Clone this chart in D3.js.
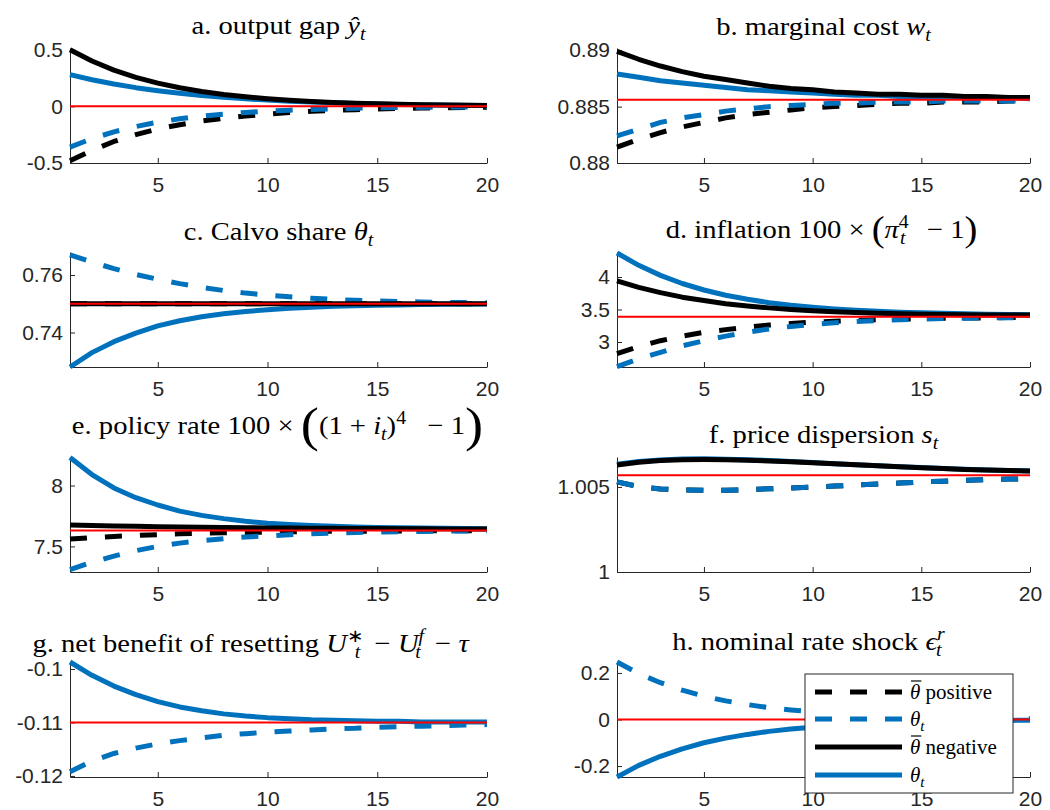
<!DOCTYPE html>
<html>
<head>
<meta charset="utf-8">
<script src="https://cdn.jsdelivr.net/npm/d3@7"></script>
<style>
  body { margin: 0; background: #fff; }
  svg { display: block; font-family: "Liberation Sans", Arial, sans-serif; }
  .ttl { font-family: "Liberation Serif", "Times New Roman", serif; fill: #000; }
</style>
</head>
<body>
<div id="chart"></div>
<script>
// periods
const periods = [1,2,3,4,5,6,7,8,9,10,11,12,13,14,15,16,17,18,19,20];
const xTicks = [5, 10, 15, 20];

// a. output gap
const gapBarPos   = [-0.48,-0.39,-0.31,-0.25,-0.2,-0.162,-0.13,-0.105,-0.085,-0.068,-0.055,-0.044,-0.036,-0.029,-0.023,-0.019,-0.015,-0.012,-0.01,-0.008];
const gapThetaPos = [-0.36,-0.285,-0.225,-0.178,-0.14,-0.11,-0.087,-0.069,-0.054,-0.043,-0.034,-0.027,-0.021,-0.017,-0.013,-0.01,-0.008,-0.007,-0.005,-0.004];
const gapThetaNeg = [0.28,0.235,0.197,0.165,0.138,0.115,0.096,0.08,0.066,0.055,0.046,0.038,0.031,0.026,0.021,0.017,0.014,0.012,0.01,0.008];
const gapBarNeg   = [0.5,0.4,0.32,0.256,0.205,0.164,0.131,0.105,0.084,0.067,0.054,0.043,0.034,0.028,0.022,0.018,0.014,0.011,0.009,0.007];
const gapSteady = 0;
const gapLim = [-0.5, 0.515];
const gapTicks = [-0.5, 0, 0.5];
const gapTickLabels = ["-0.5", "0", "0.5"];

// b. marginal cost
const mcBarPos   = [0.8814,0.8821,0.8827,0.8832,0.8836,0.884,0.8843,0.8845,0.8847,0.8849,0.885,0.8851,0.8852,0.8853,0.8853,0.8854,0.8854,0.8854,0.8855,0.8855];
const mcThetaPos = [0.8824,0.883,0.8836,0.884,0.8843,0.8846,0.8848,0.885,0.8851,0.8852,0.8853,0.8853,0.8854,0.8854,0.8854,0.8855,0.8855,0.8855,0.8855,0.8855];
const mcThetaNeg = [0.8879,0.8876,0.8873,0.8871,0.8869,0.8867,0.8865,0.8864,0.8863,0.8862,0.8861,0.886,0.886,0.8859,0.8859,0.8858,0.8858,0.8858,0.8858,0.8857];
const mcBarNeg   = [0.8899,0.8892,0.8886,0.8881,0.8877,0.8874,0.8871,0.8868,0.8866,0.8865,0.8863,0.8862,0.8861,0.8861,0.886,0.886,0.8859,0.8859,0.8858,0.8858];
const mcSteady = 0.8856;
const mcLim = [0.88, 0.8902];
const mcTicks = [0.88, 0.885, 0.89];
const mcTickLabels = ["0.88", "0.885", "0.89"];

// c. Calvo share
const calvoBarPos   = [0.75,0.75,0.75,0.75,0.75,0.75,0.75,0.75,0.75,0.75,0.75,0.75,0.75,0.75,0.75,0.75,0.75,0.75,0.75,0.75];
const calvoThetaPos = [0.767,0.7645,0.7622,0.7602,0.7585,0.757,0.7557,0.7546,0.7537,0.753,0.7524,0.7519,0.7515,0.7512,0.751,0.7508,0.7506,0.7505,0.7504,0.7503];
const calvoThetaNeg = [0.728,0.733,0.7368,0.7398,0.7423,0.7441,0.7455,0.7465,0.7473,0.7479,0.7484,0.7488,0.7491,0.7493,0.7495,0.7496,0.7497,0.7498,0.7498,0.7499];
const calvoBarNeg   = [0.75,0.75,0.75,0.75,0.75,0.75,0.75,0.75,0.75,0.75,0.75,0.75,0.75,0.75,0.75,0.75,0.75,0.75,0.75,0.75];
const calvoSteady = 0.75;
const calvoLim = [0.728, 0.768];
const calvoTicks = [0.74, 0.76];
const calvoTickLabels = ["0.74", "0.76"];

// d. inflation
const inflBarPos   = [2.82,2.93,3.02,3.09,3.15,3.19,3.23,3.26,3.285,3.305,3.32,3.333,3.343,3.352,3.358,3.364,3.368,3.372,3.375,3.377];
const inflThetaPos = [2.62,2.74,2.84,2.94,3.02,3.09,3.15,3.2,3.24,3.27,3.295,3.315,3.33,3.342,3.352,3.36,3.366,3.37,3.374,3.377];
const inflThetaNeg = [4.37,4.18,4.025,3.9,3.8,3.72,3.657,3.605,3.565,3.533,3.508,3.488,3.472,3.459,3.449,3.441,3.434,3.428,3.424,3.42];
const inflBarNeg   = [3.94,3.84,3.76,3.69,3.64,3.59,3.555,3.525,3.5,3.48,3.465,3.452,3.442,3.434,3.428,3.423,3.42,3.417,3.415,3.414];
const inflSteady = 3.39;
const inflLim = [2.615, 4.385];
const inflTicks = [3, 3.5, 4];
const inflTickLabels = ["3", "3.5", "4"];

// e. policy rate
const rateBarPos   = [7.56,7.572,7.582,7.59,7.597,7.603,7.608,7.612,7.615,7.618,7.62,7.622,7.624,7.625,7.626,7.627,7.628,7.629,7.629,7.63];
const rateThetaPos = [7.31,7.37,7.42,7.465,7.5,7.527,7.548,7.564,7.577,7.587,7.596,7.603,7.609,7.614,7.618,7.621,7.623,7.625,7.627,7.628];
const rateThetaNeg = [8.23,8.09,7.98,7.9,7.84,7.79,7.755,7.728,7.706,7.69,7.679,7.671,7.665,7.66,7.656,7.653,7.651,7.649,7.647,7.646];
const rateBarNeg   = [7.675,7.671,7.668,7.665,7.662,7.66,7.658,7.656,7.654,7.652,7.651,7.65,7.649,7.648,7.647,7.646,7.645,7.644,7.643,7.642];
const rateSteady = 7.63;
const rateLim = [7.29, 8.234];
const rateTicks = [7.5, 8];
const rateTickLabels = ["7.5", "8"];

// f. price dispersion
const dispBarPos   = [1.0053,1.00502,1.00488,1.00482,1.0048,1.00481,1.00484,1.00489,1.00494,1.00499,1.00505,1.00511,1.00517,1.00523,1.00529,1.00534,1.00539,1.00543,1.00546,1.00549];
const dispThetaPos = [1.0053,1.00502,1.00488,1.00482,1.0048,1.00481,1.00484,1.00489,1.00494,1.00499,1.00505,1.00511,1.00517,1.00523,1.00529,1.00534,1.00539,1.00543,1.00546,1.00549];
const dispThetaNeg = [1.00633,1.00649,1.00659,1.00664,1.00665,1.00663,1.0066,1.00655,1.0065,1.00644,1.00637,1.00631,1.00625,1.00619,1.00614,1.00609,1.00604,1.006,1.00597,1.00594];
const dispBarNeg   = [1.00629,1.00645,1.00655,1.0066,1.00661,1.0066,1.00657,1.00653,1.00648,1.00642,1.00636,1.0063,1.00624,1.00618,1.00613,1.00608,1.00603,1.00599,1.00596,1.00593];
const dispSteady = 1.00568;
const dispLim = [1, 1.00676];
const dispTicks = [1, 1.005];
const dispTickLabels = ["1", "1.005"];

// g. net benefit of resetting (only the theta_t model)
const netThetaPos = [-0.1192,-0.1172,-0.1158,-0.1148,-0.114,-0.1134,-0.1129,-0.1124,-0.1121,-0.1118,-0.1116,-0.1114,-0.1112,-0.1111,-0.1109,-0.1108,-0.1107,-0.1106,-0.1105,-0.1104];
const netThetaNeg = [-0.0987,-0.1012,-0.1032,-0.1048,-0.1061,-0.1071,-0.1078,-0.1084,-0.1088,-0.1091,-0.1093,-0.1095,-0.1096,-0.1097,-0.1098,-0.1098,-0.1099,-0.1099,-0.1099,-0.1099];
const netSteady = -0.11;
const netLim = [-0.1202, -0.0987];
const netTicks = [-0.12, -0.11, -0.1];
const netTickLabels = ["-0.12", "-0.11", "-0.1"];

// h. nominal rate shock
const shockThetaPos = [0.247,0.197,0.158,0.126,0.1,0.08,0.064,0.051,0.041,0.033,0.026,0.021,0.017,0.013,0.011,0.009,0.007,0.005,0.004,0.003];
const shockThetaNeg = [-0.247,-0.197,-0.158,-0.126,-0.1,-0.08,-0.064,-0.051,-0.041,-0.033,-0.026,-0.021,-0.017,-0.013,-0.011,-0.009,-0.007,-0.005,-0.004,-0.003];
const shockSteady = 0;
const shockLim = [-0.247, 0.247];
const shockTicks = [-0.2, 0, 0.2];
const shockTickLabels = ["-0.2", "0", "0.2"];

// titles (LaTeX-like pieces)
const titleA = [{t:"a. output gap "},{t:"ŷ",it:1},{t:"t",it:1,sh:"sub"}];
const titleB = [{t:"b. marginal cost "},{t:"w",it:1},{t:"t",it:1,sh:"sub"}];
const titleC = [{t:"c. Calvo share "},{t:"θ",it:1},{t:"t",it:1,sh:"sub"}];
const titleD = [{t:"d. inflation 100 × "},{t:"(",big:1.35},{t:"π",it:1},{t:"4",sh:"sup"},{t:"t",it:1,sh:"sub",back:1},{t:"   − 1"},{t:")",big:1.35}];
const titleE = [{t:"e. policy rate 100 × "},{t:"(",big:1.9},{t:"(1 + "},{t:"i",it:1},{t:"t",it:1,sh:"sub"},{t:")"},{t:"4",sh:"sup"},{t:"   − 1"},{t:")",big:1.9}];
const titleF = [{t:"f. price dispersion "},{t:"s",it:1},{t:"t",it:1,sh:"sub"}];
const titleG = [{t:"g. net benefit of resetting "},{t:"U",it:1},{t:"∗",sh:"sup"},{t:"t",it:1,sh:"sub",back:1},{t:"  − "},{t:"U",it:1},{t:"f",it:1,sh:"sup"},{t:"t",it:1,sh:"sub",back:1},{t:"  − "},{t:"τ",it:1}];
const titleH = [{t:"h. nominal rate shock "},{t:"ϵ",it:1},{t:"r",it:1,sh:"sup"},{t:"t",it:1,sh:"sub",back:1}];

const legendWords = ["positive", "", "negative", ""];

const W = 1050, H = 810;
const colX = [[70, 487], [617, 1030]];
const rowY = [48, 252, 457, 662];
const plotH = 115;
const axisColor = "#262626";
const blue = "#0072BD";

const panels = [
  {col:0,row:0,title:titleA,ty:34,tdx:0, lim:gapLim,ticks:gapTicks,labels:gapTickLabels,steady:gapSteady,barPos:gapBarPos,thetaPos:gapThetaPos,thetaNeg:gapThetaNeg,barNeg:gapBarNeg},
  {col:1,row:0,title:titleB,ty:35,tdx:0, lim:mcLim,ticks:mcTicks,labels:mcTickLabels,steady:mcSteady,barPos:mcBarPos,thetaPos:mcThetaPos,thetaNeg:mcThetaNeg,barNeg:mcBarNeg},
  {col:0,row:1,title:titleC,ty:240,tdx:0, lim:calvoLim,ticks:calvoTicks,labels:calvoTickLabels,steady:calvoSteady,barPos:calvoBarPos,thetaPos:calvoThetaPos,thetaNeg:calvoThetaNeg,barNeg:calvoBarNeg},
  {col:1,row:1,title:titleD,ty:238,tdx:-2, lim:inflLim,ticks:inflTicks,labels:inflTickLabels,steady:inflSteady,barPos:inflBarPos,thetaPos:inflThetaPos,thetaNeg:inflThetaNeg,barNeg:inflBarNeg},
  {col:0,row:2,title:titleE,ty:434,tdx:-1, lim:rateLim,ticks:rateTicks,labels:rateTickLabels,steady:rateSteady,barPos:rateBarPos,thetaPos:rateThetaPos,thetaNeg:rateThetaNeg,barNeg:rateBarNeg},
  {col:1,row:2,title:titleF,ty:443,tdx:0, lim:dispLim,ticks:dispTicks,labels:dispTickLabels,steady:dispSteady,barPos:dispBarPos,thetaPos:dispThetaPos,thetaNeg:dispThetaNeg,barNeg:dispBarNeg},
  {col:0,row:3,title:titleG,ty:652,tdx:-28, lim:netLim,ticks:netTicks,labels:netTickLabels,steady:netSteady,barPos:null,thetaPos:netThetaPos,thetaNeg:netThetaNeg,barNeg:null},
  {col:1,row:3,title:titleH,ty:650,tdx:-15, lim:shockLim,ticks:shockTicks,labels:shockTickLabels,steady:shockSteady,barPos:null,thetaPos:shockThetaPos,thetaNeg:shockThetaNeg,barNeg:null}
];

const svg = d3.select("#chart").append("svg")
  .attr("width", W)
  .attr("height", H);

function drawTitle(segs, cx, y) {
  const base = 26;
  const g = svg.append("g").attr("transform", `translate(${cx},${y}) scale(1.1,1)`);
  const text = g.append("text").attr("class", "ttl")
    .attr("text-anchor", "middle")
    .attr("font-size", base);
  let shift = 0;
  segs.forEach(s => {
    let target = 0, fs = base;
    if (s.sh === "sub") { target = 6; fs = 18; }
    if (s.sh === "sup") { target = -10; fs = 18; }
    if (s.big) { fs = base * s.big; target = 0.3 * base * (s.big - 1); }
    const ts = text.append("tspan")
      .attr("font-size", fs)
      .attr("dy", target - shift)
      .style("white-space", "pre")
      .text(s.t);
    if (s.it) ts.attr("font-style", "italic");
    if (s.back) ts.attr("dx", -8);
    shift = target;
  });
}

const line = (x, y) => d3.line()
  .defined(d => d[1] != null)
  .x(d => x(d[0]))
  .y(d => y(d[1]));

panels.forEach(p => {
  const [x0, x1] = colX[p.col];
  const top = rowY[p.row], bottom = top + plotH;

  const x = d3.scaleLinear().domain([periods[0], periods[periods.length - 1]]).range([x0, x1]);
  const y = d3.scaleLinear().domain(p.lim).range([bottom, top]);

  // axes
  const ax = svg.append("g")
    .attr("transform", `translate(0,${bottom})`)
    .call(d3.axisBottom(x).tickValues(xTicks).tickSizeInner(-5).tickSizeOuter(0).tickPadding(14));
  const ay = svg.append("g")
    .attr("transform", `translate(${x0},0)`)
    .call(d3.axisLeft(y).tickValues(p.ticks).tickFormat((d, i) => p.labels[i])
      .tickSizeInner(-5).tickSizeOuter(0).tickPadding(7));
  [ax, ay].forEach(a => {
    a.attr("font-family", null);
    a.select(".domain").attr("stroke", axisColor).attr("stroke-width", 1);
    a.selectAll(".tick line").attr("stroke", axisColor);
    a.selectAll(".tick text")
      .attr("fill", axisColor)
      .attr("font-family", "'Liberation Sans', Arial, sans-serif")
      .attr("font-size", 21);
  });

  // series: bar positive (black dashed), theta positive (blue dashed),
  // theta negative (blue solid), bar negative (black solid)
  const series = [
    {v: p.barPos, c: "#000", dash: "17,18"},
    {v: p.thetaPos, c: blue, dash: "17,18"},
    {v: p.thetaNeg, c: blue, dash: null},
    {v: p.barNeg, c: "#000", dash: null}
  ];
  series.forEach(s => {
    if (!s.v) return;
    svg.append("path")
      .datum(periods.map((t, i) => [t, s.v[i]]))
      .attr("fill", "none")
      .attr("stroke", s.c)
      .attr("stroke-width", 5)
      .attr("stroke-linejoin", "round")
      .attr("stroke-dasharray", s.dash)
      .attr("d", line(x, y));
  });

  // steady state
  svg.append("path")
    .datum([[periods[0], p.steady], [periods[periods.length - 1], p.steady]])
    .attr("fill", "none")
    .attr("stroke", "#FF0000")
    .attr("stroke-width", 2)
    .attr("d", line(x, y));

  drawTitle(p.title, (x0 + x1) / 2 + p.tdx, p.ty);
});

// legend (inside panel h)
const leg = svg.append("g");
leg.append("rect")
  .attr("x", 805).attr("y", 674)
  .attr("width", 208).attr("height", 119)
  .attr("fill", "#fff")
  .attr("stroke", axisColor)
  .attr("stroke-width", 1);

const legStyles = [
  {c: "#000", dash: "17,18"},
  {c: blue, dash: "17,18"},
  {c: "#000", dash: null},
  {c: blue, dash: null}
];
const legY = [692, 719, 747, 775];

legendWords.forEach((w, i) => {
  const yy = legY[i];
  leg.append("line")
    .attr("x1", 815).attr("x2", 902)
    .attr("y1", yy).attr("y2", yy)
    .attr("stroke", legStyles[i].c)
    .attr("stroke-width", 5)
    .attr("stroke-dasharray", legStyles[i].dash);

  const txt = leg.append("text")
    .attr("class", "ttl")
    .attr("x", 910)
    .attr("y", yy + 7)
    .attr("font-size", 21);
  txt.append("tspan").attr("font-style", "italic").text("θ");
  if (w) {
    txt.append("tspan").style("white-space", "pre").text(" " + w);
    const s0 = txt.node().getStartPositionOfChar(0);
    const e0 = txt.node().getEndPositionOfChar(0);
    leg.append("line")
      .attr("x1", s0.x + 1).attr("x2", e0.x + 1)
      .attr("y1", yy - 11).attr("y2", yy - 11)
      .attr("stroke", "#000")
      .attr("stroke-width", 1.2);
  } else {
    txt.append("tspan").attr("font-style", "italic")
      .attr("font-size", 15).attr("dy", 5).text("t");
  }
});
</script>
</body>
</html>
